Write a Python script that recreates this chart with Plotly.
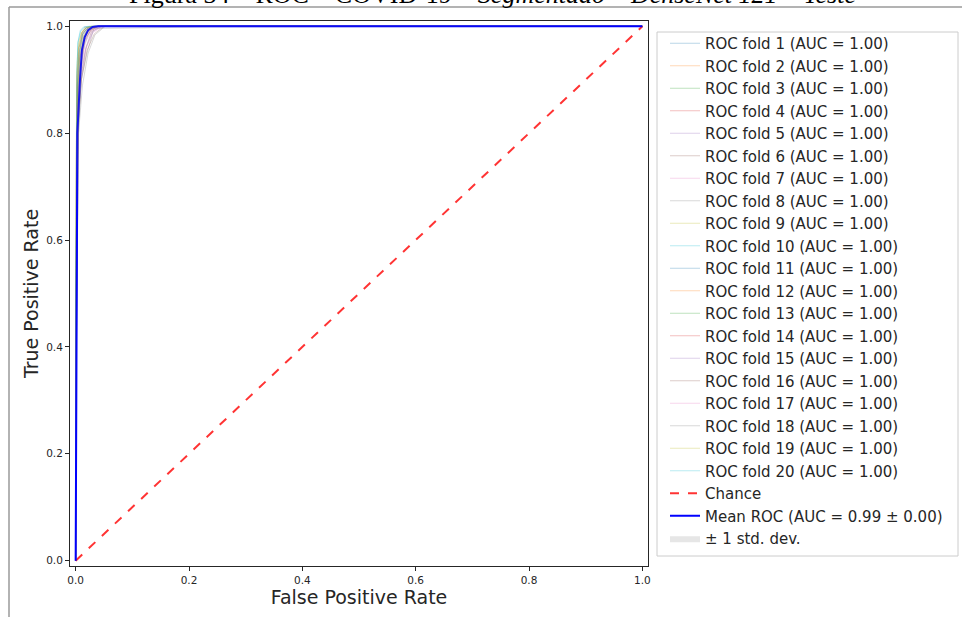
import plotly.graph_objects as go

# ---------------- data ----------------
fold_names = [f"ROC fold {i} (AUC = 1.00)" for i in range(1, 21)]

fold_fpr = [
    [0, 0, 0.003, 0.007, 0.012, 0.020, 0.030, 1],
    [0, 0, 0.002, 0.006, 0.013, 0.022, 0.035, 1],
    [0, 0, 0.004, 0.008, 0.014, 0.024, 0.040, 1],
    [0, 0, 0.003, 0.007, 0.015, 0.025, 0.038, 1],
    [0, 0, 0.004, 0.009, 0.016, 0.026, 0.042, 1],
    [0, 0, 0.005, 0.010, 0.018, 0.028, 0.045, 1],
    [0, 0, 0.003, 0.008, 0.017, 0.030, 0.048, 1],
    [0, 0, 0.004, 0.010, 0.020, 0.032, 0.240, 1],
    [0, 0, 0.002, 0.005, 0.011, 0.019, 0.030, 1],
    [0, 0, 0.002, 0.004, 0.008, 0.014, 0.022, 1],
    [0, 0, 0.003, 0.006, 0.012, 0.021, 0.033, 1],
    [0, 0, 0.002, 0.005, 0.010, 0.018, 0.028, 1],
    [0, 0, 0.003, 0.006, 0.011, 0.018, 0.027, 1],
    [0, 0, 0.004, 0.009, 0.016, 0.027, 0.040, 1],
    [0, 0, 0.005, 0.011, 0.019, 0.030, 0.046, 1],
    [0, 0, 0.004, 0.010, 0.020, 0.033, 0.050, 1],
    [0, 0, 0.003, 0.008, 0.016, 0.028, 0.043, 1],
    [0, 0, 0.005, 0.012, 0.022, 0.034, 0.052, 1],
    [0, 0, 0.003, 0.007, 0.013, 0.022, 0.034, 1],
    [0, 0, 0.002, 0.004, 0.009, 0.015, 0.024, 1],
]
fold_tpr = [
    [0, 0.35, 0.88, 0.95, 0.985, 0.996, 1, 1],
    [0, 0.55, 0.90, 0.96, 0.988, 0.997, 1, 1],
    [0, 0.40, 0.87, 0.94, 0.980, 0.995, 1, 1],
    [0, 0.30, 0.86, 0.94, 0.978, 0.994, 1, 1],
    [0, 0.28, 0.84, 0.92, 0.970, 0.992, 1, 1],
    [0, 0.25, 0.82, 0.91, 0.960, 0.990, 1, 1],
    [0, 0.30, 0.83, 0.91, 0.955, 0.988, 1, 1],
    [0, 0.20, 0.80, 0.90, 0.950, 0.996, 0.999, 1],
    [0, 0.60, 0.92, 0.97, 0.990, 0.998, 1, 1],
    [0, 0.45, 0.91, 0.97, 0.992, 0.999, 1, 1],
    [0, 0.38, 0.89, 0.95, 0.985, 0.996, 1, 1],
    [0, 0.50, 0.90, 0.96, 0.988, 0.997, 1, 1],
    [0, 0.42, 0.89, 0.96, 0.987, 0.997, 1, 1],
    [0, 0.33, 0.85, 0.93, 0.975, 0.993, 1, 1],
    [0, 0.27, 0.83, 0.91, 0.962, 0.990, 1, 1],
    [0, 0.22, 0.81, 0.90, 0.955, 0.986, 1, 1],
    [0, 0.31, 0.84, 0.92, 0.968, 0.991, 1, 1],
    [0, 0.24, 0.80, 0.89, 0.950, 0.984, 1, 1],
    [0, 0.36, 0.87, 0.95, 0.982, 0.995, 1, 1],
    [0, 0.48, 0.91, 0.97, 0.991, 0.998, 1, 1],
]

chance_x = [0, 1]
chance_y = [0, 1]

mean_fpr = [0, 0.003, 0.0076, 0.011, 0.016, 0.022, 0.030, 0.040, 1.0]
mean_tpr = [0, 0.80, 0.90, 0.955, 0.980, 0.993, 0.999, 1.0, 1.0]
std_tpr = [0, 0.08, 0.06, 0.035, 0.020, 0.010, 0.004, 0.001, 0]

x_ticks = [0.0, 0.2, 0.4, 0.6, 0.8, 1.0]
y_ticks = [0.0, 0.2, 0.4, 0.6, 0.8, 1.0]
tick_text = ["0.0", "0.2", "0.4", "0.6", "0.8", "1.0"]

title_plain = "Figura 34 – ROC – COVID-19 – "
title_italic = "Segmentado – DenseNet 121 – Teste"

# ---------------- styles ----------------
tab10 = ["31,119,180", "255,127,14", "44,160,44", "214,39,40", "148,103,189",
         "140,86,75", "227,119,194", "127,127,127", "188,189,34", "23,190,207"]

W, H = 962, 617
L, R, T, B = 70, 648, 21, 566
PW, PH = R - L, B - T


def px_x(v):
    return (v - L) / PW


def px_y(v):
    return (B - v) / PH


fig = go.Figure()

for i in range(20):
    fig.add_trace(go.Scatter(
        x=fold_fpr[i], y=fold_tpr[i], mode="lines", name=fold_names[i],
        line=dict(color=f"rgba({tab10[i % 10]},0.3)", width=1),
        legendgroup=f"g{i}",
    ))

fig.add_trace(go.Scatter(
    x=chance_x, y=chance_y, mode="lines", name="Chance",
    line=dict(color="rgba(255,0,0,0.8)", width=2, dash="dash"),
    legendgroup="chance",
))

fig.add_trace(go.Scatter(
    x=mean_fpr, y=mean_tpr, mode="lines",
    name="Mean ROC (AUC = 0.99 ± 0.00)",
    line=dict(color="rgb(0,0,255)", width=2),
    legendgroup="mean",
))

upper = [min(m + s, 1.0) for m, s in zip(mean_tpr, std_tpr)]
lower = [max(m - s, 0.0) for m, s in zip(mean_tpr, std_tpr)]
fig.add_trace(go.Scatter(
    x=mean_fpr + mean_fpr[::-1], y=upper + lower[::-1],
    mode="lines", fill="toself", fillcolor="rgba(128,128,128,0.2)",
    line=dict(width=0, color="rgba(128,128,128,0)"),
    name="± 1 std. dev.", legendgroup="std",
))

axis_common = dict(
    showgrid=False, zeroline=False, showline=True, mirror=True,
    linecolor="#262626", linewidth=1,
    ticks="outside", ticklen=4, tickwidth=1, tickcolor="#262626",
    tickfont=dict(family="DejaVu Sans", size=10.5, color="#262626"),
)

fig.update_layout(
    width=W, height=H,
    margin=dict(l=L, r=W - R, t=T, b=H - B, autoexpand=False),
    paper_bgcolor="white", plot_bgcolor="white",
    font=dict(family="DejaVu Sans", color="#262626"),
    xaxis=dict(range=[-0.01, 1.01], tickvals=x_ticks, ticktext=tick_text,
               title=dict(text="False Positive Rate",
                          font=dict(size=19, color="#262626"), standoff=4),
               **axis_common),
    yaxis=dict(range=[-0.01, 1.01], tickvals=y_ticks, ticktext=tick_text,
               title=dict(text="True Positive Rate",
                          font=dict(size=19, color="#262626"), standoff=2),
               **axis_common),
    legend=dict(
        x=px_x(665), y=px_y(27), xanchor="left", yanchor="top",
        bgcolor="rgba(0,0,0,0)", borderwidth=0,
        font=dict(family="DejaVu Sans", size=15, color="#262626"),
        tracegroupgap=0, itemwidth=30,
    ),
    showlegend=True,
)

# legend frame (drawn as a shape so its box sits where the reference has it)
fig.add_shape(type="rect", xref="paper", yref="paper", layer="below",
              x0=px_x(657), x1=px_x(958), y0=px_y(32), y1=px_y(556),
              line=dict(color="#cccccc", width=1), fillcolor="white")

# outer page frame lines (grey)
fig.add_shape(type="line", xref="paper", yref="paper",
              x0=px_x(9), x1=px_x(9), y0=px_y(7), y1=px_y(640),
              line=dict(color="#9a9a9a", width=1.5))
fig.add_shape(type="line", xref="paper", yref="paper",
              x0=px_x(9), x1=px_x(990), y0=px_y(7), y1=px_y(7),
              line=dict(color="#9a9a9a", width=1.5))

# caption at top (clipped by the page edge as in the reference)
fig.add_annotation(
    text=title_plain + "<i>" + title_italic + "</i>",
    xref="paper", yref="paper", x=px_x(492), y=px_y(11),
    xanchor="center", yanchor="bottom", showarrow=False,
    font=dict(family="Liberation Serif", size=26, color="black"),
)

fig.write_html("out.html")
